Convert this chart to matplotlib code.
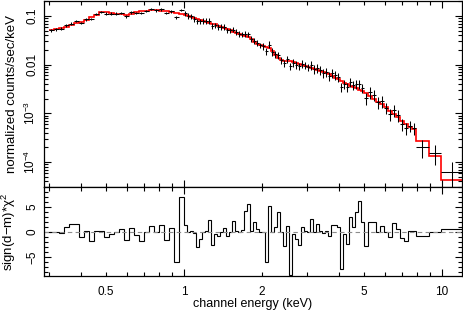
import numpy as np
import matplotlib
matplotlib.use('Agg')
import matplotlib.pyplot as plt
from matplotlib.ticker import FixedLocator, FixedFormatter, LogLocator, NullFormatter, MultipleLocator

plt.rcParams['font.family'] = ['Liberation Sans', 'DejaVu Sans']
plt.rcParams['mathtext.fontset'] = 'custom'
plt.rcParams['mathtext.rm'] = 'Liberation Sans'
plt.rcParams['mathtext.it'] = 'Liberation Sans:italic'

# --- bin edges (keV) ---
edges = [0.300, 0.313, 0.328, 0.343, 0.358, 0.375, 0.392, 0.410, 0.428, 0.448,
         0.468, 0.490, 0.512, 0.535, 0.560, 0.585, 0.612, 0.640, 0.669, 0.700,
         0.732, 0.765, 0.800, 0.837, 0.875, 0.915, 0.956, 1.000,
         1.027, 1.055, 1.084, 1.113, 1.143, 1.174, 1.206, 1.239, 1.273, 1.307,
         1.342, 1.379, 1.416, 1.455, 1.494, 1.535, 1.577, 1.619, 1.663, 1.708,
         1.755, 1.803, 1.851, 1.902, 1.953, 2.006,
         2.061, 2.117, 2.174, 2.233, 2.294, 2.356, 2.420, 2.486, 2.553, 2.623,
         2.693, 2.766, 2.841, 2.919, 2.998, 3.079, 3.162, 3.248, 3.336, 3.427,
         3.520, 3.615, 3.713, 3.814, 3.918, 4.024, 4.133, 4.245, 4.361, 4.479,
         4.600, 4.725, 4.853, 4.985,
         5.168, 5.355, 5.549, 5.750, 5.959, 6.175, 6.398, 6.630, 6.871, 7.120,
         7.378, 7.645, 7.930,
         8.906, 9.910, 12.00]

# --- data (normalized counts/sec/keV) ---
flux = [0.0504, 0.0528, 0.0550, 0.0638, 0.0700, 0.0789, 0.0718, 0.0847, 0.0868, 0.110,
        0.121, 0.112, 0.112, 0.112, 0.115, 0.0976, 0.118, 0.115, 0.115, 0.127,
        0.139, 0.130, 0.136, 0.115, 0.124, 0.093, 0.133,
        0.1125, 0.0995, 0.0986, 0.0884, 0.0782, 0.0778, 0.0797, 0.0786, 0.0804, 0.0632,
        0.0647, 0.0603, 0.0600, 0.0600, 0.0508, 0.0506, 0.0526, 0.0467, 0.0427, 0.0421,
        0.0433, 0.0419, 0.0339, 0.0311, 0.0279, 0.0251,
        0.0242, 0.0190, 0.0259, 0.0184, 0.0166, 0.0156, 0.0122, 0.0107, 0.0130, 0.00939,
        0.0110, 0.00999, 0.00917, 0.0105, 0.00957, 0.00879, 0.0098, 0.00826, 0.00871, 0.0077,
        0.00687, 0.00714, 0.0058, 0.00665, 0.00613, 0.00553, 0.00348, 0.00403, 0.0034, 0.00445,
        0.00386, 0.00401, 0.00395, 0.00325,
        0.00203, 0.00271, 0.0024, 0.00171, 0.00178, 0.0013, 0.00097, 0.00117, 0.00092, 0.0006,
        0.0005, 0.00056, 0.0005,
        0.0002, 0.000154, 6.2e-5]

rel_err = [0.06] * 27 + [0.13] * 26 + [0.17] * 16 + [0.21] * 18 + [0.27] * 13 + [0.40, 0.45, 0.60]

# --- model ---
model = [0.0504, 0.0528, 0.0554, 0.0594, 0.0653, 0.0718, 0.0753, 0.0828, 0.093, 0.107,
         0.118, 0.118, 0.115, 0.112, 0.110, 0.105, 0.112, 0.118, 0.124, 0.127,
         0.130, 0.130, 0.127, 0.124, 0.118, 0.115, 0.110,
         0.1043, 0.0995, 0.0954, 0.0910, 0.0872, 0.0835, 0.0797, 0.0764, 0.0728, 0.0698,
         0.0669, 0.0635, 0.0600, 0.0567, 0.0536, 0.0506, 0.0478, 0.0452, 0.0427, 0.0403,
         0.0381, 0.0361, 0.0329, 0.0285, 0.0266, 0.0251,
         0.0240, 0.02285, 0.0218, 0.01865, 0.01543, 0.01339, 0.01235, 0.01212, 0.01195, 0.01173,
         0.01145, 0.01087, 0.01032, 0.0097, 0.00926, 0.00879, 0.00838, 0.00803, 0.0077, 0.00738,
         0.00707, 0.00677, 0.00631, 0.00585, 0.0054, 0.00498, 0.0046, 0.00426, 0.00397, 0.00372,
         0.00348, 0.00325, 0.00305, 0.00281,
         0.00256, 0.00222, 0.00197, 0.00173, 0.00152, 0.00132, 0.00112, 0.00097, 0.00082, 0.0007,
         0.0006, 0.00052, 0.000465,
         0.00027, 0.000133, 4.3e-5]

# --- sign(d-m)*chi^2 ---
chi = [0, 0, -0.1, 1.0, 1.6, 1.6, -0.9, 0.3, -1.7, 0.3,
       0.2, -0.9, -0.3, 0.1, 0.7, -1.5, 0.8, -0.5, -1.8, 0.1,
       1.3, 0.1, 1.5, -1.5, 0.9, -6.0, 7.0,
       1.5, 0, 0.3, -0.2, -3.0, -1.3, 0, 0.2, 2.5, -2.5,
       -0.3, -0.7, 0, 0.8, -0.7, 0, 2.3, 0.3, 0, 0.5,
       4.3, 5.7, 0.2, 2.0, 0.6, 0,
       0, -6.0, 5.2, 0, 1.0, 4.0, 0, -2.8, 1.3, -8.5,
       -0.3, -1.3, -2.5, 1.0, 0.2, 0, 2.7, 0.1, 1.7, 0.2,
       -0.1, 0.3, -0.7, 1.5, 1.5, 1.0, -7.3, -0.3, -2.3, 3.0,
       1.0, 4.0, 6.3, 2.0,
       -2.7, 2.0, 2.0, 0, 1.2, 0, -1.0, 1.8, 0.7, -1.2,
       -1.7, 0.2, 0.2,
       -0.7, 0, 0.7]

edges = np.array(edges)
flux = np.array(flux)
e_lo, e_hi = edges[:-1], edges[1:]
e_cen = np.sqrt(e_lo * e_hi)
flux_err = flux * np.array(rel_err)

fig = plt.figure(figsize=(4.64, 3.11), dpi=100)
ax1 = fig.add_axes([0.0948, 0.3987, 0.9009, 0.5981])
ax2 = fig.add_axes([0.0948, 0.1125, 0.9009, 0.2862])

# --- painel superior: espectro ---
ax1.errorbar(e_cen, flux, xerr=[e_cen - e_lo, e_hi - e_cen], yerr=flux_err,
             fmt='none', ecolor='black', elinewidth=0.75, capsize=0)
ax1.stairs(model, edges, color='red', linewidth=1.2, baseline=None)
ax1.set_xscale('log')
ax1.set_yscale('log')
ax1.set_xlim(0.287, 11.96)
ax1.set_ylim(3.06e-5, 0.203)
ax1.yaxis.set_major_locator(FixedLocator([1e-4, 1e-3, 1e-2, 1e-1]))
ax1.yaxis.set_major_formatter(FixedFormatter(['10$^{-4}$', '10$^{-3}$', '0.01', '0.1']))
ax1.yaxis.set_minor_locator(LogLocator(base=10, subs=range(2, 10)))
ax1.yaxis.set_minor_formatter(NullFormatter())
ax1.set_ylabel('normalized counts/sec/keV', fontsize=9.5)
ax1.yaxis.set_label_coords(-0.061, 0.5)

# --- painel inferior: residuos ---
ax2.axhline(0, color='0.55', linewidth=0.8, dashes=(4, 3))
ax2.stairs(chi, edges, color='black', linewidth=0.8, baseline=None)
ax2.set_xscale('log')
ax2.set_xlim(0.287, 11.96)
ax2.set_ylim(-8.8, 9.0)
ax2.yaxis.set_major_locator(FixedLocator([-5, 0, 5]))
ax2.yaxis.set_minor_locator(MultipleLocator(1))
ax2.set_ylabel('sign(d\u2212m)*\u03c7$^2$', fontsize=9.5)
ax2.yaxis.set_label_coords(-0.061, 0.5)
ax2.set_xlabel('channel energy (keV)', fontsize=9)
ax2.xaxis.set_label_coords(0.5, -0.25)

minor_x = [0.3, 0.4, 0.5, 0.6, 0.7, 0.8, 0.9, 2, 3, 4, 5, 6, 7, 8, 9]
minor_lab = ['', '', '0.5', '', '', '', '', '2', '', '', '5', '', '', '', '']
for ax in (ax1, ax2):
    ax.xaxis.set_major_locator(FixedLocator([1, 10]))
    ax.xaxis.set_minor_locator(FixedLocator(minor_x))
    ax.tick_params(which='both', direction='in', top=True, right=True,
                   labelsize=8.5, width=0.8)
    ax.tick_params(which='major', length=5)
    ax.tick_params(which='minor', length=2.8)
    ax.tick_params(axis='y', which='both', labelrotation=90, pad=4)
    ax.tick_params(axis='x', which='both', pad=7)
    for lab in ax.get_yticklabels():
        lab.set_va('center')
    for s in ax.spines.values():
        s.set_linewidth(0.9)

ax1.xaxis.set_major_formatter(NullFormatter())
ax1.xaxis.set_minor_formatter(NullFormatter())
ax2.xaxis.set_major_formatter(FixedFormatter(['1', '10']))
ax2.xaxis.set_minor_formatter(FixedFormatter(minor_lab))

fig.savefig('out.png', dpi=100)
